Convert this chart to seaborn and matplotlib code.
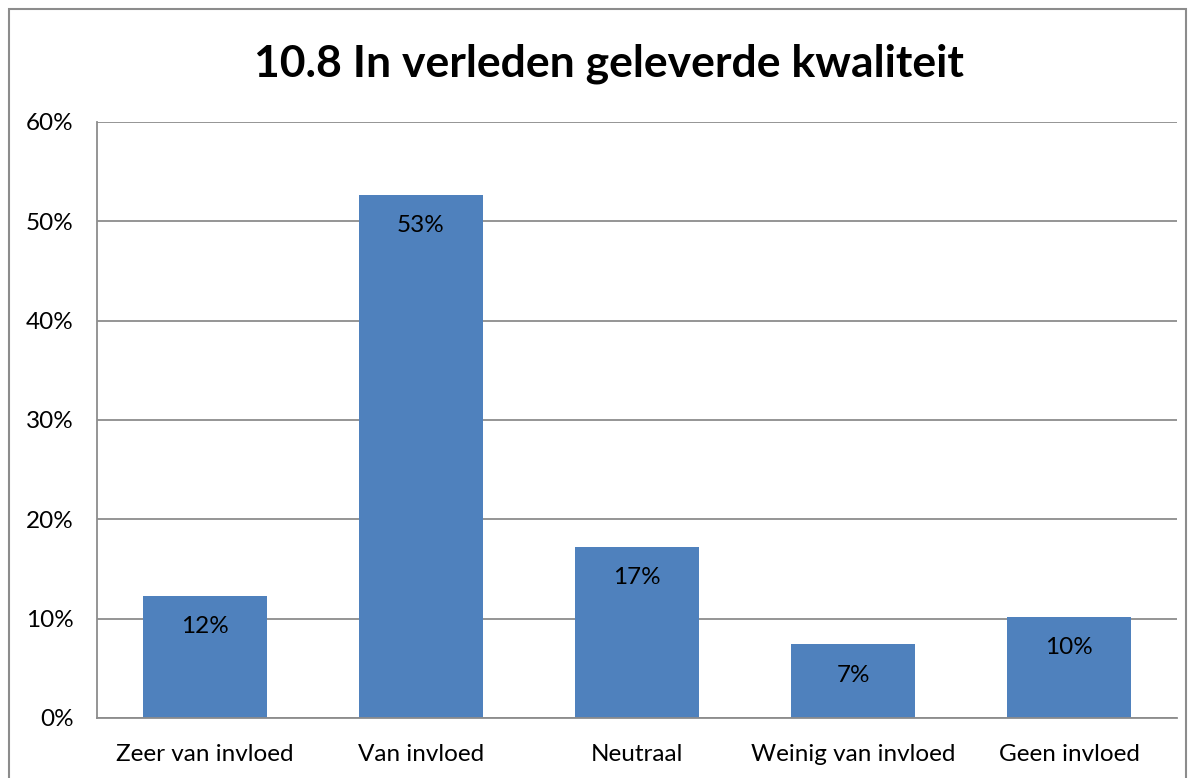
import matplotlib
matplotlib.use("Agg")
import matplotlib.pyplot as plt
import seaborn as sns
import pandas as pd
from matplotlib.patches import Rectangle
from matplotlib.ticker import FuncFormatter

# data
categories = ["Zeer van invloed", "Van invloed", "Neutraal", "Weinig van invloed", "Geen invloed"]
values = [0.123, 0.527, 0.172, 0.074, 0.102]
labels = ["12%", "53%", "17%", "7%", "10%"]
title = "10.8 In verleden geleverde kwaliteit"

sns.set_style("white")
plt.rcParams["font.family"] = ["Lato", "DejaVu Sans"]

df = pd.DataFrame({"cat": categories, "val": values})

fig = plt.figure(figsize=(11.96, 7.78), dpi=100)
ax = fig.add_axes([97 / 1196, 1 - 718 / 778, 1080 / 1196, 596 / 778])

sns.barplot(data=df, x="cat", y="val", color="#4F81BD", width=0.574,
            saturation=1, ax=ax, zorder=3, edgecolor="#4F81BD", linewidth=0)

ax.set_ylim(0, 0.6)
ax.set_xlim(-0.5, 4.5)
ax.set_yticks([0, 0.1, 0.2, 0.3, 0.4, 0.5, 0.6])
ax.yaxis.set_major_formatter(FuncFormatter(lambda v, p: f"{v * 100:.0f}%"))
ax.grid(axis="y", color="#8c8c8c", linewidth=1.3, zorder=0)
ax.set_axisbelow(True)
ax.set_xlabel("")
ax.set_ylabel("")

for s in ["top", "right"]:
    ax.spines[s].set_visible(False)
for s in ["left", "bottom"]:
    ax.spines[s].set_color("#8c8c8c")
    ax.spines[s].set_linewidth(1.3)
    ax.spines[s].set_zorder(4)

ax.tick_params(axis="y", length=0, pad=17, labelsize=17.5, labelcolor="black")
ax.tick_params(axis="x", length=0, pad=19, labelsize=17.5, labelcolor="black")

# value labels inside the bars
for i, (v, lab) in enumerate(zip(values, labels)):
    ax.annotate(lab, (i, v), xytext=(0, -22), textcoords="offset points",
                ha="center", va="center", fontsize=17.5, color="black", zorder=5)

fig.text(609 / 1196, 1 - 64 / 778, title, ha="center", va="center",
         fontsize=32, fontweight="bold", color="black")

# outer chart border
fig.patches.append(Rectangle((9 / 1196, -0.05), 1177 / 1196, 1 - 9 / 778 + 0.05,
                             transform=fig.transFigure, fill=False,
                             edgecolor="#8c8c8c", linewidth=1.5))

fig.savefig("out.png", dpi=100)
plt.close(fig)
